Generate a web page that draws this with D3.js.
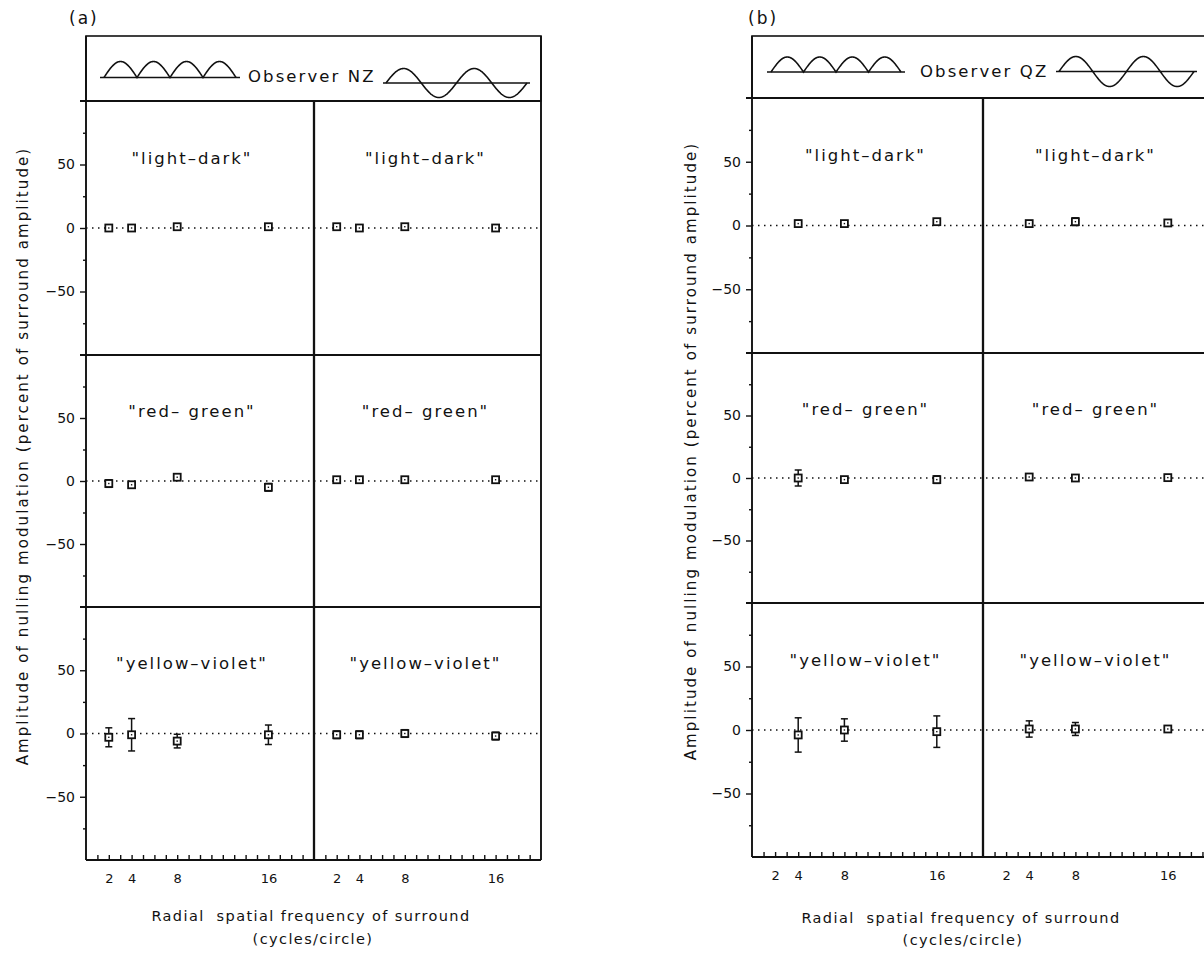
<!DOCTYPE html>
<html><head><meta charset="utf-8">
<script src="https://cdn.jsdelivr.net/npm/d3@7"></script>
<style>
body{margin:0;background:#fff;}
text{font-family:"DejaVu Sans",sans-serif;fill:#111;}
</style>
</head><body>
<svg id="chart" width="1204" height="962"></svg>
<script>
// ---------------- data ----------------
const conditions = ['"light–dark"', '"red– green"', '"yellow–violet"'];
const xTickValues = [2, 4, 8, 16];
const yTickLabels = [-50, 0, 50];
const yMinorTicks = [-75, -25, 25, 75];
const observers = ["Observer NZ", "Observer QZ"];
const panelLetters = ["(a)", "(b)"];
const yTitle = "Amplitude of nulling modulation (percent of surround amplitude)";
const xTitle1 = "Radial  spatial frequency of surround";
const xTitle2 = "(cycles/circle)";

// Observer NZ: frequencies, rectified-surround column (left) and sinusoidal column (right)
const freqsNZ = [2, 4, 8, 16];
const nzRectMean = [[0, 0, 1, 1], [-2, -3, 3, -5], [-3, -1, -6, -1]];
const nzRectErr  = [[1, 1, 1, 1], [3, 1, 1, 3], [7.5, 12.8, 5.4, 7.7]];
const nzSineMean = [[1, 0, 1, 0], [1, 1, 1, 1], [-1, -1, 0, -2]];
const nzSineErr  = [[1, 1, 1, 1], [1, 1, 1, 1], [3, 3, 3, 3]];

// Observer QZ
const freqsQZ = [4, 8, 16];
const qzRectMean = [[1.5, 1.5, 3], [0, -1.3, -1.3], [-3.9, 0, -1.3]];
const qzRectErr  = [[2.5, 1, 1], [6.4, 2, 3], [13.5, 8.8, 12.4]];
const qzSineMean = [[1.5, 3, 2], [0.8, 0, 0.3], [0.8, 0.8, 0.8]];
const qzSineErr  = [[1, 3, 1], [1, 1, 1], [6.4, 5.1, 2.5]];

// ---------------- layout ----------------
const panels = [
  { letter: panelLetters[0], observer: observers[0], freqs: freqsNZ,
    cols: [{mean: nzRectMean, err: nzRectErr}, {mean: nzSineMean, err: nzSineErr}],
    left: 86, mid: 314, right: 541, headTop: 36, rows: [101, 355, 607, 860],
    labelShift: [-8, -2],
    letterX: 69, letterY: 24,
    humps: {x0: 100, x1: 240, y: 77.5, h: 16},
    obsText: {x: 248, y: 82},
    sine: {x0: 383, x1: 530, y: 83, a: 14.5},
    xLabelY: 884, xt1: 921, xt2: 944, xtX: 311,
    yTitleX: 28, yTitleY: 456 },
  { letter: panelLetters[1], observer: observers[1], freqs: freqsQZ,
    cols: [{mean: qzRectMean, err: qzRectErr}, {mean: qzSineMean, err: qzSineErr}],
    left: 752, mid: 983, right: 1214, headTop: 36, rows: [98, 353, 603, 857],
    labelShift: [-2, -3],
    letterX: 748, letterY: 24,
    humps: {x0: 767, x1: 905, y: 72, h: 15},
    obsText: {x: 920, y: 77},
    sine: {x0: 1056, x1: 1197, y: 71.5, a: 15},
    xLabelY: 881, xt1: 923, xt2: 945, xtX: 961,
    yTitleX: 696, yTitleY: 451 }
];

const svg = d3.select("#chart");

panels.forEach(p => {
  const g = svg.append("g");
  const colLefts = [p.left, p.mid];
  const colRights = [p.mid, p.right];

  // panel letter
  g.append("text").attr("x", p.letterX).attr("y", p.letterY)
    .attr("font-size", 17).attr("letter-spacing", 2).text(p.letter);

  // header box
  g.append("rect").attr("x", p.left).attr("y", p.headTop)
    .attr("width", p.right - p.left).attr("height", p.rows[0] - p.headTop)
    .attr("fill", "none").attr("stroke", "#111").attr("stroke-width", 1.6);

  // header icons: rectified humps and sinusoid
  const hs = d3.scaleLinear().domain([0, 4 * Math.PI]).range([p.humps.x0 + 4, p.humps.x1 - 4]);
  const humpPts = d3.range(0, 4 * Math.PI + 0.001, Math.PI / 60)
    .map(t => [hs(t), p.humps.y - p.humps.h * Math.abs(Math.sin(t))]);
  g.append("path").attr("d", d3.line()(humpPts)).attr("fill", "none")
    .attr("stroke", "#111").attr("stroke-width", 1.6);
  g.append("line").attr("x1", p.humps.x0).attr("x2", p.humps.x1)
    .attr("y1", p.humps.y).attr("y2", p.humps.y).attr("stroke", "#111").attr("stroke-width", 1.6);

  g.append("text").attr("x", p.obsText.x).attr("y", p.obsText.y)
    .attr("font-size", 16.5).attr("letter-spacing", 2.1).text(p.observer);

  const ss = d3.scaleLinear().domain([0, 4 * Math.PI]).range([p.sine.x0 + 3, p.sine.x1 - 3]);
  const sinePts = d3.range(0, 4 * Math.PI + 0.001, Math.PI / 60)
    .map(t => [ss(t), p.sine.y - p.sine.a * Math.sin(t)]);
  g.append("path").attr("d", d3.line()(sinePts)).attr("fill", "none")
    .attr("stroke", "#111").attr("stroke-width", 1.6);
  g.append("line").attr("x1", p.sine.x0).attr("x2", p.sine.x1)
    .attr("y1", p.sine.y).attr("y2", p.sine.y).attr("stroke", "#111").attr("stroke-width", 1.6);

  // rows
  conditions.forEach((cond, r) => {
    const top = p.rows[r], bottom = p.rows[r + 1];
    const y = d3.scaleLinear().domain([-100, 100]).range([bottom, top]);

    // y axis ticks
    const ax1 = g.append("g").attr("transform", `translate(${p.left},0)`)
      .call(d3.axisLeft(y).tickValues(yTickLabels).tickSize(6).tickPadding(5).tickFormat(d3.format("d")));
    ax1.select(".domain").remove();
    ax1.selectAll("line").attr("stroke", "#111").attr("stroke-width", 1.4);
    ax1.selectAll("text").attr("font-size", 14).attr("font-family", "DejaVu Sans").attr("fill", "#111");
    const ax2 = g.append("g").attr("transform", `translate(${p.left},0)`)
      .call(d3.axisLeft(y).tickValues(yMinorTicks).tickSize(3).tickFormat(""));
    ax2.select(".domain").remove();
    ax2.selectAll("line").attr("stroke", "#111").attr("stroke-width", 1.4);

    // horizontal row line (top), extends past axis
    g.append("line").attr("x1", p.left - 6).attr("x2", p.right)
      .attr("y1", top).attr("y2", top).attr("stroke", "#111").attr("stroke-width", 1.9);

    // dotted zero line
    g.append("line").attr("x1", p.left).attr("x2", p.right)
      .attr("y1", y(0)).attr("y2", y(0)).attr("stroke", "#111")
      .attr("stroke-width", 1.5).attr("stroke-dasharray", "1.5,4.5");

    p.cols.forEach((col, c) => {
      const x = d3.scaleLinear().domain([0, 20]).range([colLefts[c], colRights[c]]);
      const cx = (colLefts[c] + colRights[c]) / 2 + p.labelShift[c];
      // condition label
      g.append("text").attr("x", cx).attr("y", y(50) - 1).attr("text-anchor", "middle")
        .attr("font-size", 16.5).attr("letter-spacing", 2).text(cond);

      const pts = p.freqs.map((f, i) => ({f, m: col.mean[r][i], e: col.err[r][i]}));
      const pg = g.append("g");
      // error bars
      pg.selectAll("line.eb").data(pts).join("line").attr("class", "eb")
        .attr("x1", d => x(d.f)).attr("x2", d => x(d.f))
        .attr("y1", d => y(d.m + d.e)).attr("y2", d => y(d.m - d.e))
        .attr("stroke", "#111").attr("stroke-width", 1.5);
      pg.selectAll("line.capt").data(pts).join("line").attr("class", "capt")
        .attr("x1", d => x(d.f) - 3.5).attr("x2", d => x(d.f) + 3.5)
        .attr("y1", d => y(d.m + d.e)).attr("y2", d => y(d.m + d.e))
        .attr("stroke", "#111").attr("stroke-width", 1.5);
      pg.selectAll("line.capb").data(pts).join("line").attr("class", "capb")
        .attr("x1", d => x(d.f) - 3.5).attr("x2", d => x(d.f) + 3.5)
        .attr("y1", d => y(d.m - d.e)).attr("y2", d => y(d.m - d.e))
        .attr("stroke", "#111").attr("stroke-width", 1.5);
      // open square markers
      pg.selectAll("rect.mk").data(pts).join("rect").attr("class", "mk")
        .attr("x", d => x(d.f) - 3.5).attr("y", d => y(d.m) - 3.5)
        .attr("width", 7).attr("height", 7)
        .attr("fill", "#fff").attr("stroke", "#111").attr("stroke-width", 1.8);
      pg.selectAll("rect.dot").data(pts).join("rect").attr("class", "dot")
        .attr("x", d => x(d.f) - 0.7).attr("y", d => y(d.m) - 0.7)
        .attr("width", 1.4).attr("height", 1.4).attr("fill", "#111");

      // x axis on last row
      if (r === conditions.length - 1) {
        const xa = g.append("g").attr("transform", `translate(0,${bottom})`)
          .call(d3.axisBottom(x).tickValues(d3.range(1, 20)).tickSizeInner(-5).tickSizeOuter(0)
            .tickPadding(p.xLabelY - bottom - 10)
            .tickFormat(d => xTickValues.includes(d) ? d : ""));
        xa.select(".domain").remove();
        xa.selectAll("line").attr("stroke", "#111").attr("stroke-width", 1.4);
        xa.selectAll("text").attr("font-size", 13).attr("font-family", "DejaVu Sans").attr("fill", "#111");
      }
    });
  });

  // bottom line, verticals
  g.append("line").attr("x1", p.left).attr("x2", p.right)
    .attr("y1", p.rows[3]).attr("y2", p.rows[3]).attr("stroke", "#111").attr("stroke-width", 1.9);
  g.append("line").attr("x1", p.left).attr("x2", p.left)
    .attr("y1", p.headTop).attr("y2", p.rows[3]).attr("stroke", "#111").attr("stroke-width", 1.9);
  g.append("line").attr("x1", p.mid).attr("x2", p.mid)
    .attr("y1", p.rows[0]).attr("y2", p.rows[3]).attr("stroke", "#111").attr("stroke-width", 2.3);
  g.append("line").attr("x1", p.right).attr("x2", p.right)
    .attr("y1", p.headTop).attr("y2", p.rows[3]).attr("stroke", "#111").attr("stroke-width", 1.9);

  // titles
  g.append("text").attr("x", p.xtX).attr("y", p.xt1).attr("text-anchor", "middle")
    .attr("font-size", 14.5).attr("letter-spacing", 1.4)
    .style("white-space", "pre").text(xTitle1);
  g.append("text").attr("x", p.xtX + 2).attr("y", p.xt2).attr("text-anchor", "middle")
    .attr("font-size", 14.5).attr("letter-spacing", 1.4).text(xTitle2);
  g.append("text").attr("transform", `translate(${p.yTitleX},${p.yTitleY}) rotate(-90)`)
    .attr("text-anchor", "middle").attr("font-size", 15).attr("letter-spacing", 2.1).text(yTitle);
});
</script>
</body></html>
